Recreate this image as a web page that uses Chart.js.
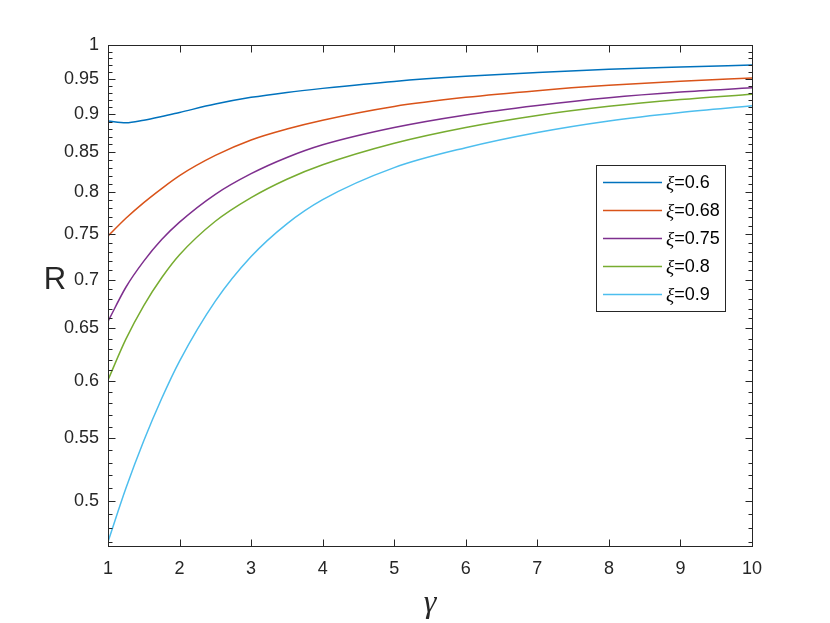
<!DOCTYPE html>
<html>
<head>
<meta charset="utf-8">
<title>R versus gamma</title>
<script src="https://cdn.jsdelivr.net/npm/chart.js@4.4.1/dist/chart.umd.min.js"></script>
<style>
  html, body { margin: 0; padding: 0; background: #ffffff; }
  #wrap { width: 830px; height: 623px; }
</style>
</head>
<body>
<div id="wrap"><canvas id="chart" width="830" height="623"></canvas></div>
<script>
// values
const gammaValues = [1, 1.25, 1.5, 1.75, 2, 2.5, 3, 3.5, 4, 5, 6, 7, 8, 9, 10]
const rXi060 = [0.891, 0.8885, 0.892, 0.897, 0.9026, 0.9141, 0.9235, 0.9305, 0.9362, 0.9462, 0.9535, 0.9590, 0.9637, 0.9670, 0.9700]
const rXi068 = [0.748, 0.7685, 0.787, 0.804, 0.820, 0.8455, 0.8656, 0.8801, 0.892, 0.9108, 0.9235, 0.9330, 0.9405, 0.9463, 0.9510]
const rXi075 = [0.657, 0.692, 0.720, 0.744, 0.764, 0.797, 0.8224, 0.8429, 0.8593, 0.8822, 0.8992, 0.9122, 0.9230, 0.9310, 0.9370]
const rXi080 = [0.601, 0.6395, 0.673, 0.702, 0.727, 0.765, 0.793, 0.8155, 0.8336, 0.8613, 0.8822, 0.8985, 0.9110, 0.9205, 0.9280]
const rXi090 = [0.470, 0.5098, 0.548, 0.5843, 0.6185, 0.6775, 0.725, 0.762, 0.7905, 0.830, 0.8555, 0.8755, 0.8910, 0.9026, 0.9117]

const xiLabels = ["0.6", "0.68", "0.75", "0.8", "0.9"]
const lineColours = ["#0072BD", "#D95319", "#7E2F8E", "#77AC30", "#4DBEEE"]

const xTicks = [1, 2, 3, 4, 5, 6, 7, 8, 9, 10]
const yTicks = [0.5, 0.55, 0.6, 0.65, 0.7, 0.75, 0.8, 0.85, 0.9, 0.95, 1]

const axisColour = "#262626"
const tickFont = { family: "'Liberation Sans', Arial, Helvetica, sans-serif", size: 18 }

const allSeries = [rXi060, rXi068, rXi075, rXi080, rXi090]

// Build datasets from the arrays
const datasets = allSeries.map((vals, i) => ({
  label: "ξ=" + xiLabels[i],
  data: gammaValues.map((g, j) => ({ x: g, y: vals[j] })),
  borderColor: lineColours[i],
  borderWidth: 1.5,
  pointRadius: 0,
  fill: false,
  cubicInterpolationMode: "monotone",
}))

// Draws the box, inner ticks, legend and axis titles
const matlabAxes = {
  id: "matlabAxes",
  afterDraw(chart) {
    const ctx = chart.ctx
    const area = chart.chartArea
    const xs = chart.scales.x
    const ys = chart.scales.y
    ctx.save()
    ctx.strokeStyle = axisColour
    ctx.lineWidth = 1
    const L = Math.round(area.left) + 0.5
    const R = Math.round(area.right) + 0.5
    const T = Math.round(area.top) + 0.5
    const B = Math.round(area.bottom) + 0.5
    ctx.strokeRect(L, T, R - L, B - T)

    ctx.beginPath()
    // x ticks, bottom and top
    for (const v of xTicks) {
      const px = Math.round(xs.getPixelForValue(v)) + 0.5
      ctx.moveTo(px, B); ctx.lineTo(px, B - 7)
      ctx.moveTo(px, T); ctx.lineTo(px, T + 7)
    }
    // y ticks every 0.01, longer on the labelled ones
    for (let k = 47; k <= 100; k++) {
      const v = k / 100
      const py = Math.round(ys.getPixelForValue(v)) + 0.5
      const len = (k % 5 === 0) ? 7 : 4
      ctx.moveTo(L, py); ctx.lineTo(L + len, py)
      ctx.moveTo(R, py); ctx.lineTo(R - len, py)
    }
    ctx.stroke()

    // legend
    const box = { x: 596.5, y: 165.5, w: 129, h: 146 }
    ctx.fillStyle = "#ffffff"
    ctx.fillRect(box.x, box.y, box.w, box.h)
    ctx.strokeStyle = axisColour
    ctx.strokeRect(box.x, box.y, box.w, box.h)
    chart.data.datasets.forEach((ds, i) => {
      const cy = 182.5 + i * 28
      ctx.strokeStyle = ds.borderColor
      ctx.lineWidth = 1.5
      ctx.beginPath()
      ctx.moveTo(603, cy); ctx.lineTo(662, cy)
      ctx.stroke()
      ctx.fillStyle = "#000000"
      ctx.textBaseline = "middle"
      ctx.textAlign = "left"
      ctx.font = "italic 19px 'Liberation Serif', 'DejaVu Serif', serif"
      ctx.fillText("ξ", 666, cy + 1)
      const w = ctx.measureText("ξ").width
      ctx.font = "18px 'Liberation Sans', Arial, sans-serif"
      ctx.fillText("=" + xiLabels[i], 666 + w, cy + 1)
    })

    // axis titles
    ctx.fillStyle = "#262626"
    ctx.textAlign = "center"
    ctx.textBaseline = "alphabetic"
    ctx.font = "31px 'Liberation Sans', Arial, sans-serif"
    ctx.fillText("R", 55, 289)
    ctx.font = "italic 32px 'Liberation Serif', 'DejaVu Serif', serif"
    ctx.fillText("γ", 430, 612)
    ctx.restore()
  }
}

const myChart = new Chart(document.getElementById("chart"), {
  type: "line",
  data: { datasets: datasets },
  plugins: [matlabAxes],
  options: {
    responsive: false,
    animation: false,
    devicePixelRatio: 1,
    layout: { padding: { left: 0, top: 45, right: 78, bottom: 0 } },
    plugins: {
      legend: { display: false },
      tooltip: { enabled: false },
    },
    scales: {
      x: {
        type: "linear",
        min: 1,
        max: 10,
        afterFit: (s) => { s.height = 77 },
        afterBuildTicks: (s) => { s.ticks = xTicks.map(v => ({ value: v })) },
        grid: { display: false, drawTicks: false },
        border: { display: false },
        ticks: { color: axisColour, font: tickFont, padding: 12, maxRotation: 0 },
      },
      y: {
        type: "logarithmic",
        min: 0.467,
        max: 1,
        afterFit: (s) => { s.width = 108 },
        afterBuildTicks: (s) => { s.ticks = yTicks.map(v => ({ value: v })) },
        grid: { display: false, drawTicks: false },
        border: { display: false },
        ticks: {
          color: axisColour,
          font: tickFont,
          padding: 9,
          callback: (v) => String(Number(v.toFixed(2))),
        },
      },
    },
  },
})
</script>
</body>
</html>
